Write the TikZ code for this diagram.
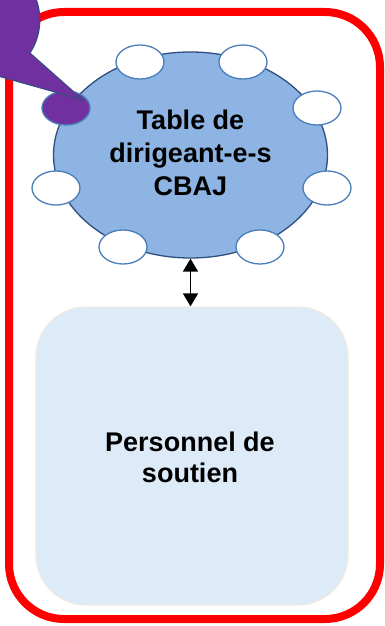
\documentclass[tikz,border=0pt]{standalone}
\usepackage{fontspec}
\setmainfont{Liberation Sans}
\usetikzlibrary{shapes.geometric,arrows.meta}
\definecolor{framered}{HTML}{FF0000}
\definecolor{tablefill}{HTML}{8DB4E2}
\definecolor{tableline}{HTML}{2F4F80}
\definecolor{seatline}{HTML}{4A7EBB}
\definecolor{purplec}{HTML}{7030A0}
\definecolor{boxfill}{HTML}{DDEBF8}
\definecolor{boxline}{HTML}{EEECE1}
\tikzset{
  seat/.style={ellipse, draw=seatline, fill=white, line width=1.3pt, minimum width=48pt, minimum height=34pt, inner sep=0pt},
  bigtext/.style={font=\bfseries\fontsize{27}{33}\selectfont, align=center, text=black},
}
\begin{document}
\begin{tikzpicture}[x=1pt,y=-1pt]
\useasboundingbox (0,0) rectangle (385,626);
\clip (0,0) rectangle (385,626);
% frame
\node[draw=framered, line width=8pt, rounded corners=55pt, minimum width=371pt, minimum height=607pt, inner sep=0pt] (frame) at (194.5,315.5) {};
% table
\node[ellipse, draw=tableline, fill=tablefill, line width=1.3pt, minimum width=274pt, minimum height=206pt, inner sep=0pt] (table) at (190.5,155) {};
\node[bigtext] (tabletext) at (190.5,153) {Table de\\dirigeant-e-s\\CBAJ};
% seats
\node[seat] (s1) at (140,62) {};
\node[seat] (s2) at (243,62) {};
\node[seat] (s3) at (317,108) {};
\node[seat] (s4) at (327,188) {};
\node[seat] (s5) at (260,247) {};
\node[seat] (s6) at (123,247) {};
\node[seat] (s7) at (56,188) {};
\node[seat, fill=purplec] (s8) at (66,108) {};
% callout
\draw[draw=tableline, fill=purplec, line width=1pt, line join=round]
  (0,76.6) -- (83,100) -- (30,53) arc[start angle=33.4, end angle=-289.5, radius=60] -- cycle;
% box
\node[draw=boxline, fill=boxfill, line width=1.2pt, rounded corners=50pt, minimum width=312pt, minimum height=298pt, inner sep=0pt] (box) at (192,456) {};
\node[bigtext, font=\bfseries\fontsize{27}{31}\selectfont] (boxtext) at (190,457) {Personnel de\\soutien};
% arrow
\draw[line width=1.5pt, {Triangle[width=15pt,length=13pt]}-{Triangle[width=15pt,length=13pt]}] (table.south) -- (table.south |- box.north);
\end{tikzpicture}
\end{document}
